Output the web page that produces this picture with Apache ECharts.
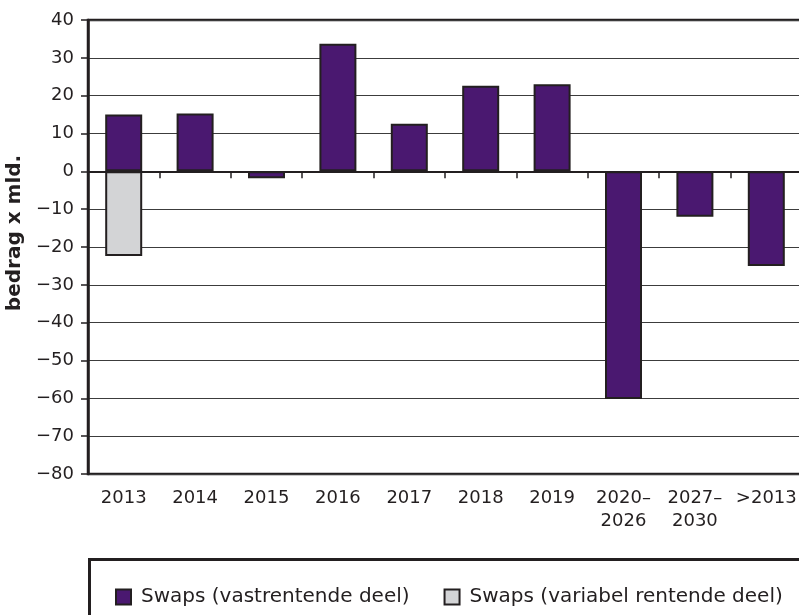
<!DOCTYPE html>
<html>
<head>
<meta charset="utf-8">
<title>Swaps</title>
<script src="https://cdn.jsdelivr.net/npm/echarts@6/dist/echarts.min.js"></script>
<style>
	html,body{margin:0;padding:0;background:#fff;}
	#chart{width:799px;height:615px;}
</style>
</head>
<body>
<div id="chart"></div>
<script>
/*数据*/
var jaren=['2013','2014','2015','2016','2017','2018','2019','2020–\n2026','2027–\n2030','>2013'];
var vastrentend=[15,15.3,-1.8,33.7,12.6,22.6,23,-60.2,-12,-25];
var variabel=[-22.4,null,null,null,null,null,null,null,null,null];
var yTicks={min:-80,max:40,step:10};
var reeksNamen=['Swaps (vastrentende deel)','Swaps (variabel rentende deel)'];

var donker='#231f20';
var font='DejaVu Sans';

var myChart=echarts.init(document.getElementById('chart'),null,{renderer:'canvas'});
var option={
	animation:false,
	backgroundColor:'#fff',
	textStyle:{fontFamily:font,color:donker},
	grid:{
		left:88,
		right:-3,
		top:20,
		bottom:141,
		outerBoundsMode:'none',
		containLabel:false,
		show:true,
		borderColor:donker,
		borderWidth:2.5,
		backgroundColor:'transparent'
	},
	legend:{
		left:110,
		top:582,
		itemWidth:15,
		itemHeight:15,
		itemGap:34,
		icon:'rect',
		selectedMode:false,
		textStyle:{fontFamily:font,fontSize:20,color:donker,padding:[0,0,0,5]},
		data:reeksNamen
	},
	xAxis:[
		{
			// lijn op nul met streepjes
			type:'category',
			data:jaren,
			axisLine:{onZero:true,lineStyle:{color:donker,width:2}},
			axisTick:{show:true,length:7,interval:0,lineStyle:{color:donker,width:1.5}},
			axisLabel:{show:false},
			splitLine:{show:false}
		},
		{
			// labels onderaan
			type:'category',
			data:jaren,
			position:'bottom',
			axisLine:{show:false,onZero:false},
			axisTick:{show:false},
			axisLabel:{show:true,interval:0,margin:13,fontFamily:font,fontSize:18,lineHeight:23,color:donker},
			splitLine:{show:false}
		}
	],
	yAxis:{
		type:'value',
		min:yTicks.min,
		max:yTicks.max,
		interval:yTicks.step,
		name:'bedrag x mld.',
		nameLocation:'middle',
		nameGap:58,
		nameTextStyle:{fontFamily:font,fontWeight:'bold',fontSize:20,color:donker,padding:[0,0,0,28]},
		axisLine:{show:true,lineStyle:{color:donker,width:2.5}},
		axisTick:{show:true,length:7,lineStyle:{color:donker,width:1.5}},
		axisLabel:{
			margin:14,
			fontFamily:font,
			fontSize:18,
			color:donker,
			formatter:function(v){return String(v).replace('-','\u2212');}
		},
		splitLine:{show:true,lineStyle:{color:'#3c3c3c',width:1}}
	},
	graphic:[
		{
			type:'rect',
			left:87,
			top:557,
			shape:{width:760,height:90},
			style:{fill:'none',stroke:donker,lineWidth:3},
			silent:true
		}
	],
	series:[
		{
			name:reeksNamen[0],
			type:'bar',
			stack:'swaps',
			barWidth:37,
			data:vastrentend,
			itemStyle:{color:'#4a1870',borderColor:donker,borderWidth:2}
		},
		{
			name:reeksNamen[1],
			type:'bar',
			stack:'swaps',
			barWidth:37,
			data:variabel,
			itemStyle:{color:'#d3d4d6',borderColor:donker,borderWidth:2}
		}
	]
};
myChart.setOption(option);
</script>
</body>
</html>
